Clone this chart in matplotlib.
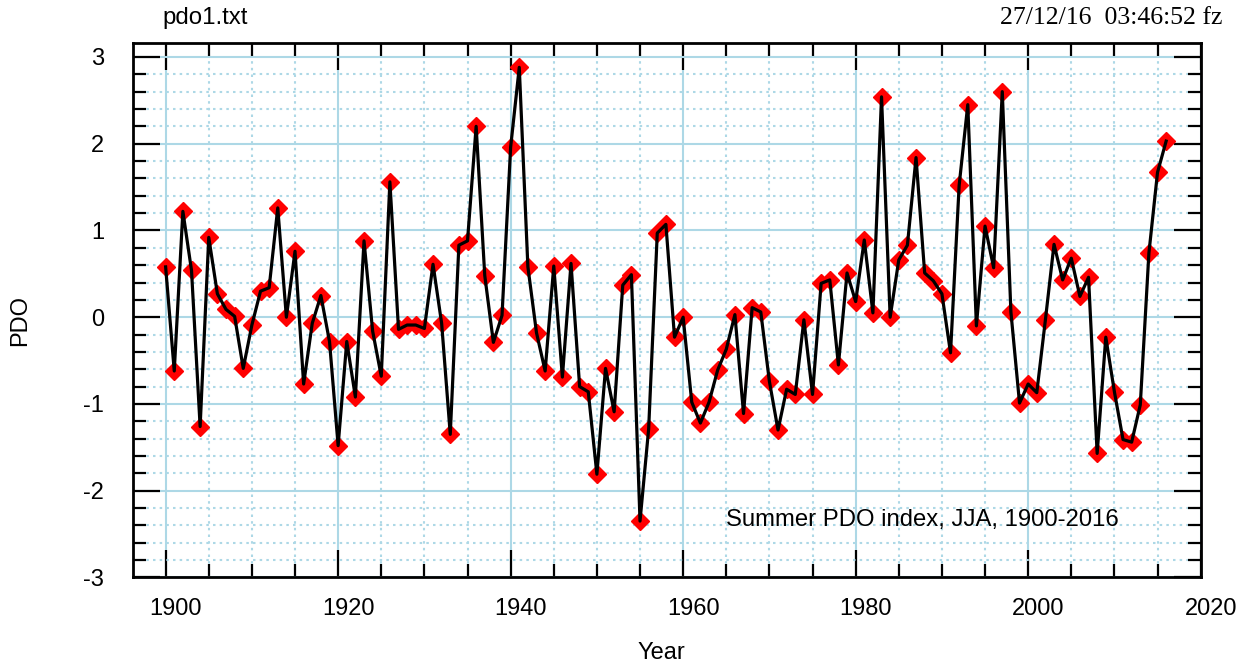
import numpy as np
import matplotlib
matplotlib.use('Agg')
import matplotlib.pyplot as plt
from matplotlib.ticker import MultipleLocator
from matplotlib.transforms import ScaledTranslation

# Summer (JJA) PDO index
years = np.arange(1900, 2017)
pdo = [0.58, -0.62, 1.22, 0.54, -1.26, 0.92, 0.27, 0.09, 0.01, -0.59,
       -0.09, 0.30, 0.34, 1.26, 0.00, 0.76, -0.77, -0.07, 0.25, -0.28,
       -1.48, -0.28, -0.92, 0.88, -0.16, -0.68, 1.56, -0.14, -0.09, -0.09,
       -0.13, 0.61, -0.07, -1.35, 0.83, 0.88, 2.20, 0.48, -0.29, 0.02,
       1.96, 2.88, 0.58, -0.18, -0.62, 0.59, -0.69, 0.62, -0.80, -0.86,
       -1.81, -0.59, -1.09, 0.37, 0.49, -2.35, -1.29, 0.97, 1.07, -0.23,
       0.00, -0.98, -1.22, -0.98, -0.61, -0.37, 0.03, -1.11, 0.11, 0.06,
       -0.74, -1.30, -0.83, -0.89, -0.03, -0.89, 0.39, 0.43, -0.55, 0.51,
       0.18, 0.89, 0.05, 2.54, 0.00, 0.66, 0.83, 1.84, 0.51, 0.42,
       0.27, -0.41, 1.52, 2.45, -0.10, 1.05, 0.57, 2.60, 0.06, -0.99,
       -0.77, -0.87, -0.03, 0.84, 0.43, 0.68, 0.24, 0.46, -1.57, -0.23,
       -0.86, -1.41, -1.44, -1.01, 0.74, 1.67, 2.03]

plt.rcParams['font.family'] = ['Liberation Sans', 'DejaVu Sans']
plt.rcParams['axes.unicode_minus'] = False

fig = plt.figure(figsize=(12.55, 6.68), dpi=100)
ax = fig.add_axes([0.1062, 0.1355, 0.8505, 0.7994])

# grid
ax.set_xlim(1896.25, 2020)
ax.set_ylim(-3, 3.155)
ax.xaxis.set_major_locator(MultipleLocator(20))
ax.xaxis.set_minor_locator(MultipleLocator(5))
ax.yaxis.set_major_locator(MultipleLocator(1))
ax.yaxis.set_minor_locator(MultipleLocator(0.2))
ax.grid(which='major', color='#add8e6', lw=1.5, ls='-', zorder=0)
ax.grid(which='minor', color='#add8e6', lw=1.5, ls=(0, (1.2, 2)), zorder=0)
ax.set_axisbelow(True)

# markers under the line
ax.plot(years, pdo, ls='none', marker='D', ms=9.5, color='red', zorder=2)
ax.plot(years, pdo, color='black', lw=2.3, zorder=3)

ax.tick_params(which='both', direction='in', top=True, right=True,
               width=1.6, color='black', labelsize=17)
ax.tick_params(which='major', length=19.5)
ax.tick_params(which='minor', length=9.5)
ax.tick_params(axis='y', pad=21)
ax.tick_params(axis='x', pad=15)
for s in ax.spines.values():
    s.set_linewidth(2)

offset = ScaledTranslation(10 / 100, 0, fig.dpi_scale_trans)
for lab in ax.get_xticklabels():
    lab.set_transform(lab.get_transform() + offset)

ax.text(1965.0, -2.34, 'Summer PDO index, JJA, 1900-2016', fontsize=17.2,
        ha='left', va='center')

fig.text(661 / 1255, 1 - 653 / 668, 'Year', fontsize=17, ha='center', va='center')
fig.text(20 / 1255, 1 - 320 / 668, 'PDO', fontsize=17, ha='center', va='center',
         rotation=90)
fig.text(162 / 1255, 1 - 18 / 668, 'pdo1.txt', fontsize=17.3, ha='left', va='center')
fig.text(1222 / 1255, 1 - 18 / 668, '27/12/16  03:46:52 fz', fontsize=18.5,
         family='Liberation Serif', ha='right', va='center')

fig.savefig('out.png', dpi=100)
